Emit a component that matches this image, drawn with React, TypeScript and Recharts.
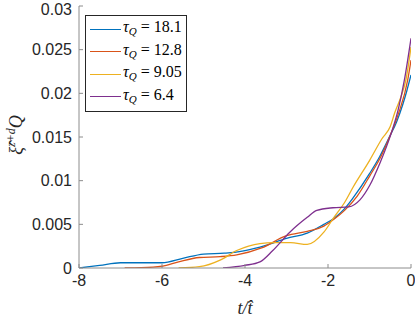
import React from 'react';
import { LineChart, Line, XAxis, YAxis, Legend } from 'recharts';

const xTicks = [-8, -6, -4, -2, 0];
const yTicks = [0, 0.005, 0.01, 0.015, 0.02, 0.025, 0.03];

const tau181T = [-8, -7.5, -7, -6.5, -6, -5.5, -5, -4.5, -4.25, -4, -3.5, -3, -2.5, -2.1, -1.85, -1.6, -1.4, -1, -0.75, -0.5, -0.35, -0.2, -0.1, 0];
const tau181V = [0, 0.0003, 0.0006, 0.0006, 0.0006, 0.0011, 0.0016, 0.0017, 0.0018, 0.002, 0.0026, 0.0034, 0.004, 0.005, 0.0057, 0.0068, 0.008, 0.0108, 0.0128, 0.0152, 0.0167, 0.0187, 0.0203, 0.0221];

const tau128T = [-6.9, -6.5, -6, -5.6, -5.1, -4.6, -4.2, -3.6, -3, -2.5, -2.1, -1.85, -1.6, -1.3, -1, -0.7, -0.5, -0.3, -0.08, 0];
const tau128V = [0, 0.00003, 0.0002, 0.0007, 0.0012, 0.0013, 0.0015, 0.0023, 0.0037, 0.0042, 0.0048, 0.0056, 0.0066, 0.0082, 0.0105, 0.013, 0.0152, 0.0177, 0.0215, 0.0238];

const tau905T = [-5.6, -5.1, -4.6, -4.2, -3.64, -3.3, -2.9, -2.5, -2.1, -1.87, -1.6, -1.39, -1, -0.7, -0.5, -0.39, -0.25, -0.12, 0];
const tau905V = [0, 0.00015, 0.0009, 0.002, 0.0028, 0.0029, 0.0029, 0.0027, 0.0041, 0.0057, 0.0075, 0.0093, 0.0123, 0.0148, 0.0162, 0.0178, 0.0195, 0.0216, 0.0253];

const tau64T = [-4.53, -4, -3.64, -3.33, -2.92, -2.5, -2.27, -1.88, -1.5, -1.23, -0.99, -0.75, -0.59, -0.43, -0.31, -0.16, 0];
const tau64V = [0, 0.0003, 0.0007, 0.002, 0.0041, 0.0058, 0.0066, 0.0069, 0.007, 0.0078, 0.0095, 0.012, 0.0139, 0.0161, 0.0181, 0.0215, 0.0263];

const seriesNames = ['18.1', '12.8', '9.05', '6.4'];
const seriesColors = ['#0072BD', '#D95319', '#EDB120', '#7E2F8E'];

const zip = (t: number[], v: number[]) => t.map((x, i) => ({ t: x, v: v[i] }));
const series = [
  zip(tau181T, tau181V),
  zip(tau128T, tau128V),
  zip(tau905T, tau905V),
  zip(tau64T, tau64V),
];

const serif = "'Liberation Serif', 'DejaVu Serif', serif";
const sans = "'Liberation Sans', Arial, Helvetica, sans-serif";

const LegendBox = () => (
  <div
    style={{
      border: '1px solid #262626',
      background: '#fff',
      padding: '2px 4px 3px 4px',
      fontFamily: serif,
      fontSize: 16,
      color: '#000',
      lineHeight: '18.5px',
    }}
  >
    {seriesNames.map((n, i) => (
      <div key={n} style={{ display: 'flex', alignItems: 'center', whiteSpace: 'nowrap' }}>
        <span style={{ display: 'inline-block', width: 31, height: 0, borderTop: `1.4px solid ${seriesColors[i]}`, marginRight: 2 }} />
        <span>
          <i>τ</i>
          <sub style={{ fontSize: 11, fontStyle: 'italic', verticalAlign: '-3px' }}>Q</sub>
          <span> = {n}</span>
        </span>
      </div>
    ))}
  </div>
);

const XLabel = (props: any) => {
  const vb = props.viewBox || {};
  const cx = vb.x + vb.width / 2;
  return (
    <text x={cx} y={vb.y + 46} textAnchor="middle" fontFamily={serif} fontSize={18} fill="#262626" fontStyle="italic">
      t/t̂
    </text>
  );
};

const YLabel = (props: any) => {
  const vb = props.viewBox || {};
  const cy = vb.y + vb.height / 2 - 2;
  const x = 22;
  return (
    <text x={x} y={cy} transform={`rotate(-90 ${x} ${cy})`} textAnchor="middle" fontFamily={serif} fontSize={18} fill="#262626" fontStyle="italic">
      ξ̂<tspan fontSize={12} dy={-7}>z+d</tspan><tspan dy={7}>Q</tspan>
    </text>
  );
};

export default function App() {
  return (
    <div style={{ position: 'absolute', left: 0, top: 0, background: '#fff' }}>
      <LineChart width={415} height={319} margin={{ top: 6, right: 4, left: 0, bottom: 0 }}>
        <XAxis
          type="number"
          dataKey="t"
          domain={[-8, 0]}
          ticks={xTicks}
          allowDataOverflow
          height={51}
          tickSize={-4}
          tickMargin={11}
          stroke="#8c8c8c"
          tick={{ fill: '#262626', fontSize: 16, fontFamily: sans }}
          label={<XLabel />}
        />
        <YAxis
          type="number"
          dataKey="v"
          domain={[0, 0.03]}
          ticks={yTicks}
          allowDataOverflow
          width={79}
          tickSize={-4}
          tickMargin={11}
          stroke="#8c8c8c"
          tick={{ fill: '#262626', fontSize: 16, fontFamily: sans }}
          label={<YLabel />}
        />
        {series.map((d, i) => (
          <Line
            key={seriesNames[i]}
            data={d}
            dataKey="v"
            type="monotone"
            stroke={seriesColors[i]}
            strokeWidth={1.3}
            dot={false}
            isAnimationActive={false}
            name={seriesNames[i]}
          />
        ))}
        <Legend
          layout="vertical"
          align="center"
          verticalAlign="middle"
          content={<LegendBox />}
          wrapperStyle={{ position: 'absolute', left: 85, top: 15, width: 'auto' }}
        />
      </LineChart>
    </div>
  );
}
